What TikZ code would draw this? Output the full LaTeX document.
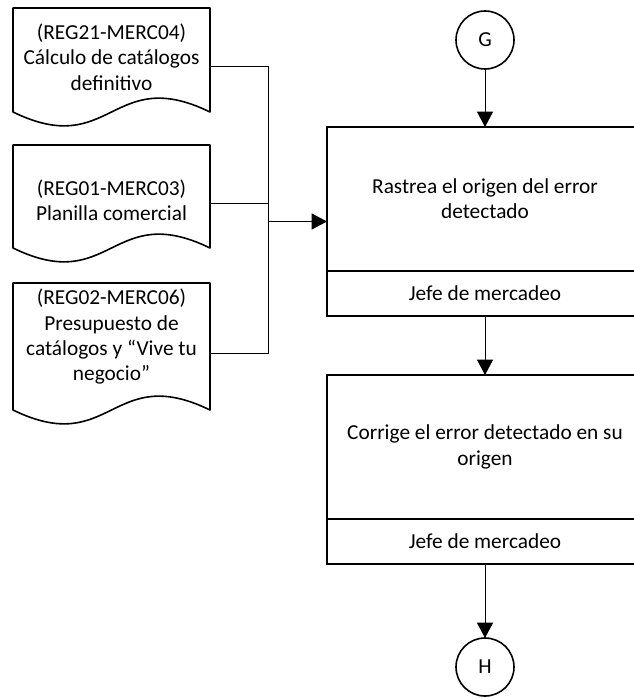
\documentclass[tikz,border=0pt]{standalone}
\usepackage{fontspec}
\setmainfont{Carlito}
\usetikzlibrary{arrows.meta}
\begin{document}
\begin{tikzpicture}[x=0.75pt,y=-0.75pt,
  txt/.style={font=\fontsize{16}{19}\selectfont,align=center,inner sep=0pt},
  conn/.style={line width=0.75pt,draw=black},
  arr/.style={conn,-{Triangle[length=11.5pt,width=12pt]}},
  docline/.style={line width=1.2pt,line join=round},
  mainbox/.style={txt,draw,line width=1.5pt,outer sep=0pt,minimum width=237pt,minimum height=108pt},
  rolebox/.style={txt,draw,line width=1.5pt,outer sep=0pt,minimum width=237pt,minimum height=33.75pt},
  connector/.style={txt,circle,draw,line width=1.2pt,outer sep=0pt,minimum size=43.5pt}
]
\useasboundingbox (0,0) rectangle (634,699);
\clip (0,0) rectangle (634,699);

% documents
\draw[docline] (13,112) -- (13,8) -- (210,8) -- (210,112)
  .. controls (111.5,64) and (111.5,160) .. (13,112) -- cycle;
\node[txt] (d1) at (111.5,57) {(REG21-MERC04)\\C\'alculo de cat\'alogos\\definitivo};
\coordinate (d1c) at (210,67);

\draw[docline] (13,248) -- (13,145) -- (210,145) -- (210,248)
  .. controls (111.5,200) and (111.5,296) .. (13,248) -- cycle;
\node[txt] (d2) at (111.5,200) {(REG01-MERC03)\\Planilla comercial};
\coordinate (d2c) at (210,203);

\draw[docline] (13,410) -- (13,283) -- (210,283) -- (210,410)
  .. controls (111.5,362) and (111.5,458) .. (13,410) -- cycle;
\node[txt] (d3) at (111.5,337) {(REG02-MERC06)\\Presupuesto de\\cat\'alogos y “Vive tu\\negocio”};
\coordinate (d3c) at (210,353);

% right column
\node[connector] (G) at (485,40) {G};
\node[mainbox] (m1) at (485,199) {Rastrea el origen del error\\detectado};
\node[rolebox] (r1) at (485,293.5) {Jefe de mercadeo};
\node[mainbox] (m2) at (485,447) {Corrige el error detectado en su\\origen};
\node[rolebox] (r2) at (485,541.5) {Jefe de mercadeo};
\node[connector] (H) at (485,667) {H};

% bus
\coordinate (j1) at (268,67);
\coordinate (j2) at (268,203);
\coordinate (j3) at (268,353);
\coordinate (ja) at (268,221.5);
\draw[conn] (d1c) -- (j1) -- (j3) -- (d3c);
\draw[conn] (d2c) -- (j2);
\draw[arr] (ja) -- (ja -| m1.west);

\draw[arr] (G) -- (m1);
\draw[arr] (r1) -- (m2);
\draw[arr] (r2) -- (H);
\end{tikzpicture}
\end{document}
